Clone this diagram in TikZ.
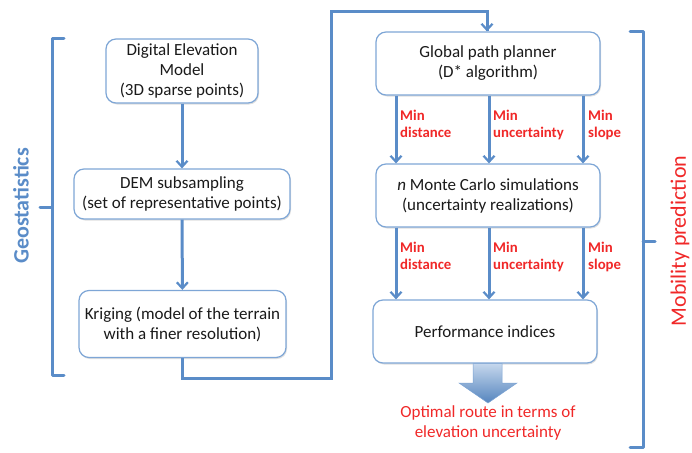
\documentclass[tikz,border=0pt]{standalone}
\usepackage{fontspec}
\setmainfont{Carlito}
\usetikzlibrary{arrows.meta,shadows}
\definecolor{lineblue}{HTML}{5A8CC8}
\definecolor{boxblue}{HTML}{7EA6D6}
\definecolor{redtxt}{HTML}{F02828}
\definecolor{darktxt}{HTML}{1A1A1A}
\tikzset{
  box/.style={draw=boxblue, line width=1.2pt, rounded corners=10pt, fill=white,
    align=center, text=darktxt, font=\fontsize{17}{20}\selectfont, inner sep=2pt,
    drop shadow={opacity=0.25, shadow xshift=1pt, shadow yshift=-1.5pt}},
  conn/.style={draw=lineblue, line width=3pt, -{Straight Barb[length=6pt,width=11pt,line width=2.2pt]}},
  link/.style={draw=lineblue, line width=3pt},
  brk/.style={draw=lineblue, line width=3pt, line cap=round, line join=round},
  lab/.style={text=redtxt, font=\bfseries\fontsize{14.8}{17}\selectfont, align=left, anchor=north west, inner sep=0pt},
}
\begin{document}
\begin{tikzpicture}[x=1pt,y=-1pt]
\useasboundingbox (0,0) rectangle (692,452);
% left column
\node[box, minimum width=152pt, minimum height=64pt] (dem) at (182,71) {Digital Elevation\\Model\\(3D sparse points)};
\node[box, minimum width=216pt, minimum height=50pt] (sub) at (182,194) {DEM subsampling\\(set of representative points)};
\node[box, minimum width=207pt, minimum height=67pt] (krig) at (182.5,324) {Kriging (model of the terrain\\with a finer resolution)};
% right column
\node[box, minimum width=224pt, minimum height=63pt] (gpp) at (488,63.5) {Global path planner\\(D* algorithm)};
\node[box, minimum width=224pt, minimum height=63pt] (mc) at (488,195.5) {\textit{n} Monte Carlo simulations\\(uncertainty realizations)};
\node[box, minimum width=224pt, minimum height=63pt] (perf) at (485,331.5) {Performance indices};
% left arrows
\draw[conn] (dem) -- (sub);
\draw[conn] (sub) -- (krig);
% link from kriging to planner
\coordinate (lk) at (331,378);
\coordinate (tp) at (331,12);
\coordinate (gn) at (487,0);
\draw[link, line join=miter] (krig.south) |- (lk) -- (tp) -| (gn |- gpp.north);
\draw[conn] (487,12) -- (gn |- gpp.north);
% three parallel arrows
\coordinate (xa) at (396,0);
\coordinate (xb) at (489,0);
\coordinate (xc) at (583,0);
\foreach \c in {xa,xb,xc}{
  \draw[conn] (gpp.south -| \c) -- (mc.north -| \c);
  \draw[conn] (mc.south -| \c) -- (perf.north -| \c);
}
\node[lab] (l1) at (400,110) {Min\\distance};
\node[lab] (l2) at (493,110) {Min\\uncertainty};
\node[lab] (l3) at (588,110) {Min\\slope};
\node[lab] (l4) at (400,242) {Min\\distance};
\node[lab] (l5) at (493,242) {Min\\uncertainty};
\node[lab] (l6) at (588,242) {Min\\slope};
% block arrow
\shade[top color=boxblue!45, bottom color=lineblue!95!black, draw=lineblue!80, line width=0.5pt]
  (473,363.5) -- (502,363.5) -- (502,383) -- (517,383) -- (488,403) -- (459,383) -- (473,383) -- cycle;
\node[text=redtxt, font=\fontsize{17}{20}\selectfont, align=center] (opt) at (488,423) {Optimal route in terms of\\elevation uncertainty};
% brackets
\draw[brk] (64,39) -- (52,39) -- (52,375) -- (64,375);
\draw[brk] (52,207) -- (40,207);
\node[text=lineblue, font=\bfseries\fontsize{22}{24}\selectfont, rotate=90] (geo) at (21,206) {Geostatistics};
\draw[brk] (630,32) -- (643,32) -- (643,447) -- (630,447);
\draw[brk] (643,241) -- (655,241);
\node[text=redtxt, font=\fontsize{22}{24}\selectfont, rotate=90] (mob) at (680,241) {Mobility prediction};
\end{tikzpicture}
\end{document}
